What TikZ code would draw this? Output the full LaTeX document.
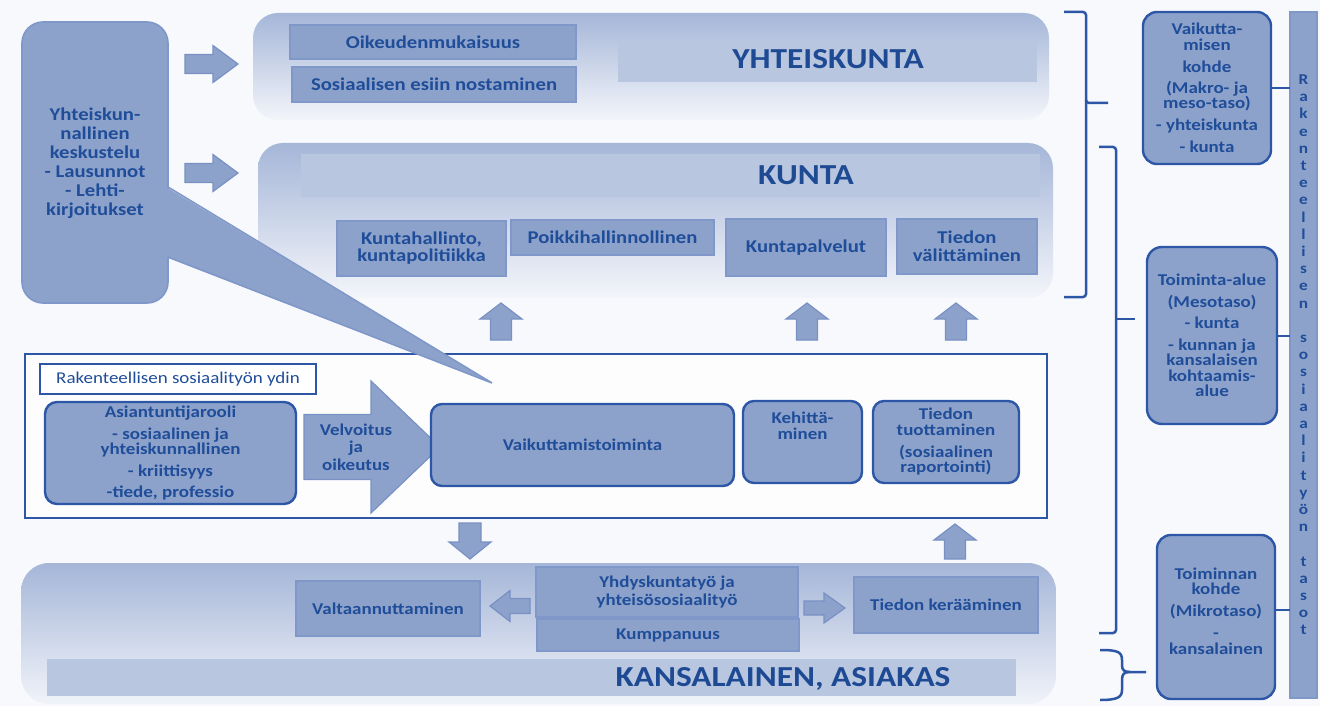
\documentclass[tikz,border=0pt]{standalone}
\usepackage{fontspec}
\setmainfont{Carlito}[FakeStretch=1.15]
\usetikzlibrary{calc}
\definecolor{bgc}{HTML}{F8F9FC}
\definecolor{boxfill}{HTML}{8DA2CB}
\definecolor{dark}{HTML}{2D57A6}
\definecolor{boxline}{HTML}{7F98C9}
\definecolor{txtc}{HTML}{1F4D99}
\definecolor{titc}{HTML}{1E4A94}
\definecolor{ptop}{HTML}{A5B6D8}
\definecolor{pbot}{HTML}{F3F5FA}
\definecolor{bandc}{HTML}{B8C6E0}
\definecolor{arrline}{HTML}{7890C4}
\newcommand\fntL{\bfseries\fontsize{18}{17}\selectfont\lineskiplimit=-20pt\relax}
\newcommand\fntY{\bfseries\fontsize{18}{19}\selectfont\lineskiplimit=-20pt\relax}
\newcommand\fntM{\bfseries\fontsize{16.5}{15.5}\selectfont\lineskiplimit=-20pt\relax}
\newcommand\fntN{\bfseries\fontsize{16.5}{17.5}\selectfont\lineskiplimit=-20pt\relax}
\newcommand\fntT{\bfseries\fontsize{29}{30}\selectfont}
\newcommand\fntR{\fontsize{16.5}{18}\selectfont}
\newcommand\fntV{\bfseries\fontsize{15}{16}\selectfont}
\tikzset{
  pics/barrow/.style n args={4}{code={
    \draw[fill=boxfill, draw=arrline, line width=1.2pt, line join=miter]
      (0,-#2/2) -- (#1-#4,-#2/2) -- (#1-#4,-#3/2) -- (#1,0) -- (#1-#4,#3/2) -- (#1-#4,#2/2) -- (0,#2/2) -- cycle;
  }}
}
\begin{document}
\begin{tikzpicture}[x=1pt,y=-1pt,
  every node/.style={inner sep=0pt, outer sep=0pt},
  rb/.style={draw=boxline, line width=2pt, fill=boxfill, text=txtc, align=center, font=\fntM},
  ob/.style={draw=dark, line width=2.4pt, fill=boxfill, text=txtc, align=center, font=\fntM, rounded corners=#1},
  ob/.default=11pt,
  txt/.style={text=txtc, align=center, font=\fntM},
  brace/.style={draw=dark, line width=2.5pt},
  con/.style={draw=dark, line width=2pt},
  panel/.style={top color=ptop, bottom color=pbot, rounded corners=#1},
  title/.style={font=\fntT, text=titc, anchor=base}
]
\useasboundingbox (0,0) rectangle (1320,706);
\fill[bgc] (0,0) rectangle (1320,706);

% panels
\shade[panel=25pt] (253,13) rectangle (1049,120);
\shade[panel=25pt] (258,143) rectangle (1053,298);
\shade[top color=ptop, bottom color=pbot!97!ptop, rounded corners=28pt] (21,563) rectangle (1056,704);
\fill[bandc] (618,40) rectangle (1037,82);
\fill[bandc] (301,154) rectangle (1040,197);
\fill[bandc] (47,659) rectangle (1016,696);
\node[title] (tyh) at (828,69) {YHTEISKUNTA};
\node[title] (tku) at (806,184) {KUNTA};
\node[title] (tka) at (783,686.5) {KANSALAINEN, ASIAKAS};

% YHTEISKUNTA boxes
\node[rb, font=\fntL, minimum width=286pt, minimum height=34pt] (oik) at (433,42) {Oikeudenmukaisuus};
\node[rb, font=\fntL, minimum width=284pt, minimum height=35pt] (sos) at (434,84.5) {Sosiaalisen esiin nostaminen};

% KUNTA boxes
\node[rb, font=\fntL, minimum width=169pt, minimum height=55pt] (kh) at (421.5,248.5) {Kuntahallinto,\\kuntapolitiikka};
\node[rb, font=\fntL, minimum width=203pt, minimum height=35pt] (poi) at (612.5,237.5) {Poikkihallinnollinen};
\node[rb, font=\fntL, minimum width=160pt, minimum height=57pt] (kp) at (806,247.5) {Kuntapalvelut};
\node[rb, font=\fntL, minimum width=140pt, minimum height=55pt] (tv) at (967,246.5) {Tiedon\\[1pt]välittäminen};

% left box with callout
\node[draw=boxline, line width=1.6pt, fill=boxfill, rounded corners=21pt, minimum width=146pt, minimum height=281pt] (lb) at (95,162.5) {};
\node[txt, font=\fntY] (lbt) at (95,163.5) {Yhteiskun-\\nallinen\\keskustelu\\- Lausunnot\\- Lehti-\\kirjoitukset};

% arrows to panels
\pic at (185,64) {barrow={53}{19}{37}{25}};
\pic at (185,173) {barrow={53}{19}{37}{25}};

% up arrows to KUNTA
\pic[rotate=90] at (501,340) {barrow={37}{21}{42}{16}};
\pic[rotate=90] at (807,340) {barrow={37}{21}{42}{16}};
\pic[rotate=90] at (956,340) {barrow={37}{21}{42}{16}};

% core frame
\node[draw=dark, line width=2.2pt, fill=white!70!bgc, minimum width=1022pt, minimum height=164pt] (frame) at (536,436) {};
\node[draw=dark, line width=2pt, fill=white, minimum width=276pt, minimum height=30pt, font=\fntR, text=txtc] (lab) at (178,379) {Rakenteellisen sosiaalityön ydin};
\node[ob=12pt, minimum width=251pt, minimum height=102pt] (asi) at (170.5,453) {Asiantuntijarooli\\[6.5pt]- sosiaalinen ja\\yhteiskunnallinen\\[6.5pt]- kriittisyys\\[5.5pt]-tiede, professio};
\pic at (304,447) {barrow={136}{65}{132}{69}};
\node[txt, font=\fntN] (vel) at (356,447) {Velvoitus\\ja\\oikeutus};
\node[ob=11pt, minimum width=303pt, minimum height=82pt] (vai) at (582.5,445) {Vaikuttamistoiminta};
\node[ob=11pt, minimum width=119pt, minimum height=82pt] (keh) at (802.5,442) {};
\node[txt] (keht) at (802.5,426) {Kehittä-\\minen};
\node[ob=11pt, minimum width=146pt, minimum height=82pt] (tt) at (946,442) {Tiedon\\tuottaminen\\[6.5pt](sosiaalinen\\raportointi)};

% callout triangle
\coordinate (ctip) at (492,383);
\fill[boxfill] (166,187) -- (ctip) -- (166,257) -- cycle;
\draw[boxline, line width=1.6pt, line join=miter] (lb.east |- 0,187) -- (ctip) -- (lb.east |- 0,257);

% arrows between frame and bottom
\pic[rotate=-90] at (470,523) {barrow={36}{22}{42}{17}};
\pic[rotate=90] at (955,559) {barrow={35}{21}{42}{16}};

% bottom boxes
\node[rb, minimum width=184pt, minimum height=55pt] (val) at (388,608.5) {Valtaannuttaminen};
\node[rb, minimum width=262pt, minimum height=50pt, font=\fntN] (yhd) at (667,592) {Yhdyskuntatyö ja\\yhteisösosiaalityö};
\node[rb, minimum width=262pt, minimum height=32pt] (kum) at (668,635) {Kumppanuus};
\node[rb, minimum width=184pt, minimum height=56pt] (tk) at (946,605) {Tiedon kerääminen};
\pic[rotate=180] at (530,606) {barrow={40}{15}{31}{20}};
\pic at (804,608) {barrow={41}{14}{30}{21}};

% braces
\draw[brace, rounded corners=3pt] (1064,12) -- (1086,12) -- (1086,103) -- (1108,103);
\draw[brace, rounded corners=3pt] (1086,100) -- (1086,297) -- (1064,297);
\draw[brace, rounded corners=3pt] (1099,147) -- (1116,147) -- (1116,633) -- (1099,633);
\draw[brace] (1116,319) -- (1135,319);
\draw[brace] (1100,650) .. controls (1118,650) and (1122,652) .. (1122,660) -- (1122,665) .. controls (1122,670) and (1124,672) .. (1130,672) -- (1146,672);
\draw[brace] (1130,672) .. controls (1124,672) and (1122,674) .. (1122,680) -- (1122,690) .. controls (1122,697) and (1118,700) .. (1100,700);

% right side
\node[draw=boxline, line width=1.6pt, fill=boxfill, minimum width=27pt, minimum height=686pt] (bar) at (1303.5,355) {};
\foreach \c [count=\i from 0] in {R,a,k,e,n,t,e,e,l,l,i,s,e,n,{},s,o,s,i,a,a,l,i,t,y,ö,n,{},t,a,s,o,t}
  \node[font=\fntV, text=txtc, anchor=base] (v\i) at (1303.5,84.5+17.2*\i) {\c};
\node[ob=14pt, minimum width=128pt, minimum height=152pt] (vk) at (1207,88) {Vaikutta-\\misen\\[6.5pt]kohde\\[5.5pt](Makro- ja\\meso-taso)\\[6.5pt]- yhteiskunta\\[6.5pt]- kunta};
\node[ob=15pt, minimum width=130pt, minimum height=177pt] (ta) at (1212,335.5) {Toiminta-alue\\[6.5pt](Mesotaso)\\[5.5pt]- kunta\\[6.5pt]- kunnan ja\\kansalaisen\\kohtaamis-\\alue};
\node[ob=14pt, minimum width=118pt, minimum height=164pt] (tko) at (1216,617) {};
\node[txt] (tkot) at (1216,611) {Toiminnan\\kohde\\[6.5pt](Mikrotaso)\\[6.5pt]-\\kansalainen};
\draw[con] (vk.east) -- (vk.east -| bar.west);
\draw[con] (ta.east) -- (ta.east -| bar.west);
\draw[con] ([yshift=7pt]tko.east) -- ([yshift=7pt]tko.east -| bar.west);
\end{tikzpicture}
\end{document}
